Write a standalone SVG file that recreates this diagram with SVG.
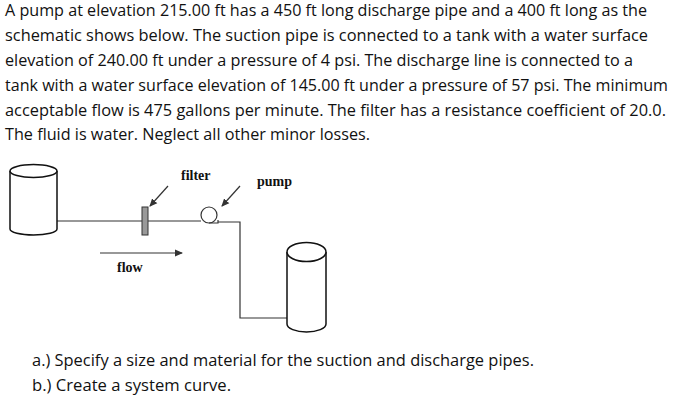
<svg xmlns="http://www.w3.org/2000/svg" width="674" height="402" viewBox="0 0 674 402">
<defs><marker id="ah" markerWidth="8" markerHeight="8" refX="7" refY="4" orient="auto" markerUnits="userSpaceOnUse"><path d="M0,0.5 L8,4 L0,7.5z" fill="#333"/></marker></defs>
<style>
.t{font-family:"Open Sans","Liberation Sans",sans-serif;font-size:15.5px;fill:#111}
.l{font-family:"Liberation Serif",serif;font-size:14px;font-weight:bold;fill:#111}
.s{fill:#fff;stroke:#111;stroke-width:1.5}
.p{fill:none;stroke:#333;stroke-width:1.2}
</style>
<rect width="674" height="402" fill="#fff"/>
<g id="text">
<text class="t" x="5" y="16" textLength="642" lengthAdjust="spacingAndGlyphs">A pump at elevation 215.00 ft has a 450 ft long discharge pipe and a 400 ft long as the</text>
<text class="t" x="5" y="41" textLength="643" lengthAdjust="spacingAndGlyphs">schematic shows below. The suction pipe is connected to a tank with a water surface</text>
<text class="t" x="5" y="66" textLength="628" lengthAdjust="spacingAndGlyphs">elevation of 240.00 ft under a pressure of 4 psi. The discharge line is connected to a</text>
<text class="t" x="5" y="91" textLength="663" lengthAdjust="spacingAndGlyphs">tank with a water surface elevation of 145.00 ft under a pressure of 57 psi. The minimum</text>
<text class="t" x="5" y="116" textLength="661" lengthAdjust="spacingAndGlyphs">acceptable flow is 475 gallons per minute. The filter has a resistance coefficient of 20.0.</text>
<text class="t" x="5" y="140" textLength="365" lengthAdjust="spacingAndGlyphs">The fluid is water. Neglect all other minor losses.</text>
<text class="t" x="32" y="366" textLength="502" lengthAdjust="spacingAndGlyphs">a.) Specify a size and material for the suction and discharge pipes.</text>
<text class="t" x="32" y="391" textLength="199" lengthAdjust="spacingAndGlyphs">b.) Create a system curve.</text>
</g>
<g id="connectors">
<path class="p" d="M57,221 H201"/>
<path class="p" d="M218,222 H240 V318 H287"/>
<line class="p" x1="168" y1="186" x2="150" y2="206" marker-end="url(#ah)"/>
<line class="p" x1="240" y1="186" x2="222" y2="206" marker-end="url(#ah)"/>
<line class="p" x1="100" y1="253" x2="182" y2="253" marker-end="url(#ah)"/>
</g>
<g id="tank1">
<path class="s" d="M10,171 V229 A23.5,6 0 0 0 57,229 V171"/>
<ellipse class="s" cx="33.5" cy="171" rx="23.5" ry="6.5"/>
</g>
<g id="tank2">
<path class="s" d="M287,252 V324 A19.5,8 0 0 0 326,324 V252"/>
<ellipse class="s" cx="306.5" cy="252" rx="19.5" ry="9.5"/>
</g>
<g id="filter"><rect x="142" y="207" width="6" height="28" fill="#999" stroke="#333" stroke-width="1"/></g>
<g id="pump"><circle cx="209" cy="215" r="8" fill="#fff" stroke="#333" stroke-width="1.2"/><path d="M209,223 H218 V220" fill="none" stroke="#333" stroke-width="1.2"/></g>
<g id="labels">
<text class="l" x="181" y="180">filter</text>
<text class="l" x="257" y="186">pump</text>
<text class="l" x="117" y="272">flow</text>
</g>
</svg>
